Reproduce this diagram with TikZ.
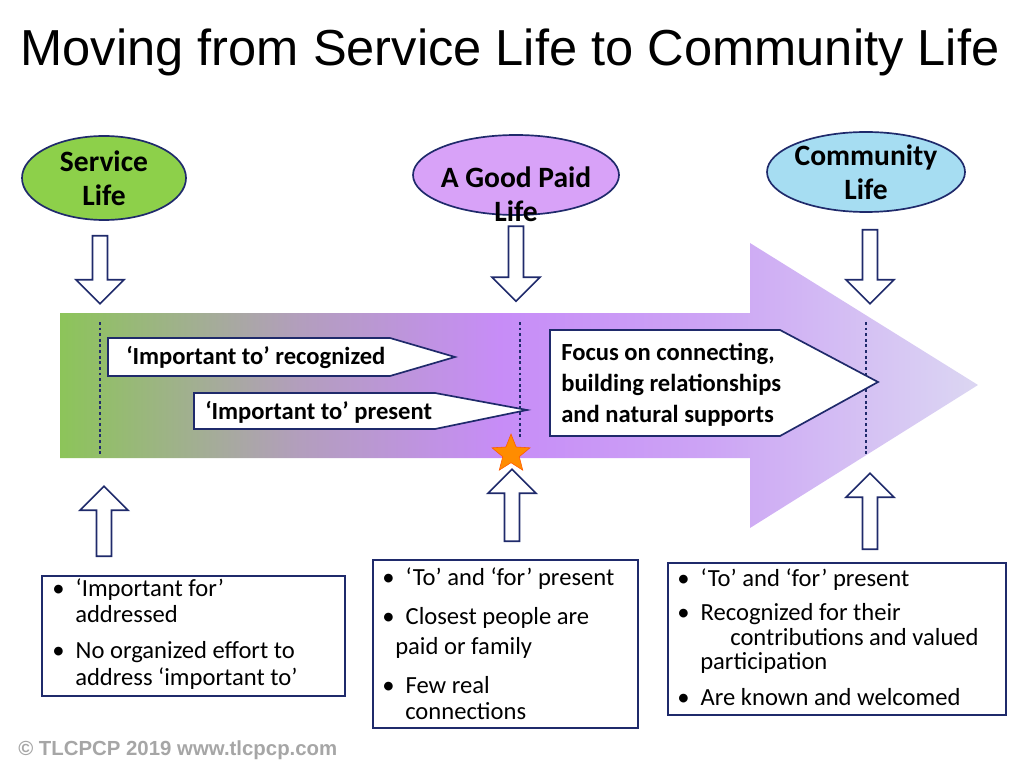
\documentclass[tikz,border=0pt]{standalone}
\usepackage{fontspec}
\setmainfont{Carlito}
\newfontfamily\arialf{Liberation Sans}
\usetikzlibrary{shapes.geometric,shapes.arrows,positioning}
\definecolor{navy}{HTML}{1F2A6B}
\definecolor{lgreen}{HTML}{8DD04A}
\definecolor{lpurple}{HTML}{D8A2F8}
\definecolor{lblue}{HTML}{A6DDF2}
\pgfdeclarehorizontalshading{bandshade}{100bp}{
  rgb(0bp)=(0.55,0.77,0.35); rgb(25bp)=(0.55,0.77,0.35); rgb(38bp)=(0.70,0.62,0.74);
  rgb(49bp)=(0.78,0.55,0.97); rgb(60bp)=(0.80,0.64,0.96); rgb(75bp)=(0.86,0.84,0.95);
  rgb(100bp)=(0.86,0.84,0.95)}
\tikzset{
  bubble/.style={ellipse,draw=navy,line width=1.2pt,inner sep=0pt,font=\bfseries\fontsize{21}{24}\selectfont,align=center},
  hollow/.style={single arrow,draw=navy,fill=white,line width=1.2pt,minimum width=48\pxu,single arrow head extend=13\pxu,inner sep=5\pxu},
  tag/.style={draw=navy,fill=white,line width=1.2pt},
  note/.style={draw=navy,fill=white,line width=1.2pt},
  txt/.style={font=\fontsize{17.5}{20}\selectfont,anchor=west,inner sep=0pt},
  btxt/.style={font=\bfseries\fontsize{17.5}{20}\selectfont,anchor=west,inner sep=0pt,align=left},
  sep/.style={navy,line width=2pt,dotted}
}
\newlength{\pxu}\setlength{\pxu}{0.25mm}
\begin{document}
\begin{tikzpicture}[x=0.25mm,y=-0.25mm]
\useasboundingbox (0,0) rectangle (1024,765);
% title
\node[font=\arialf\fontsize{36}{40}\selectfont] (title) at (510,52) {Moving from Service Life to Community Life};
% big arrow
\shade[shading=bandshade]
  (60,313) -- (750,313) -- (750,243) -- (978,385) -- (750,528) -- (750,458) -- (60,458) -- cycle;
% dotted lines
\coordinate (d1t) at (100,322); \coordinate (d1b) at (100,455);
\coordinate (d2t) at (520,322); \coordinate (d2b) at (520,440);
\coordinate (d3t) at (866,322); \coordinate (d3b) at (866,455);
\draw[sep] (d1t) -- (d1b);
\draw[sep] (d2t) -- (d2b);
\draw[sep] (d3t) -- (d3b);
% bubbles
\node[bubble,fill=lgreen,minimum width=164\pxu,minimum height=84\pxu] (svc) at (104,178) {Service\\Life};
\node[bubble,fill=lpurple,minimum width=206\pxu,minimum height=80\pxu] (paid) at (516,175) {};
\node[font=\bfseries\fontsize{21}{24}\selectfont,align=center] (paidt) at (516,194) {A Good Paid\\Life};
\node[ellipse,draw=navy,line width=1.2pt,fill=lblue,minimum width=198\pxu,minimum height=80\pxu] (comm) at (866,172) {};
\node[font=\bfseries\fontsize{21}{24}\selectfont,align=center] (commt) at (866,172) {Community\\Life};
% down arrows
\node[hollow,rotate=-90,minimum height=68\pxu] (dn1) at (100,266) {};
\node[hollow,rotate=-90,minimum height=75\pxu] (dn2) at (516,260) {};
\node[hollow,rotate=-90,minimum height=74\pxu] (dn3) at (870,263) {};
% up arrows
\node[hollow,rotate=90,minimum height=70\pxu] (up1) at (104,525) {};
\node[hollow,rotate=90,minimum height=72\pxu] (up2) at (512,509) {};
\node[hollow,rotate=90,minimum height=76\pxu] (up3) at (870,515) {};
% tags
\draw[tag] (108,338) -- (390,338) -- (455,357) -- (390,376) -- (108,376) -- cycle;
\node[btxt] (t1) at (126,358) {‘Important to’ recognized};
\draw[tag] (194,393) -- (435,393) -- (527,410) -- (435,429) -- (194,429) -- cycle;
\node[btxt] (t2) at (205,412) {‘Important to’ present};
\draw[tag] (550,330) -- (780,330) -- (878,382) -- (780,436) -- (550,436) -- cycle;
\node[btxt,font=\bfseries\fontsize{17.5}{22}\selectfont] (t3) at (561,385) {Focus on connecting,\\building relationships\\and natural supports};
% star
\node[star,star points=5,star point ratio=2.3,fill=orange!90!yellow,draw=orange!70!red,minimum size=40\pxu,inner sep=0pt] (st) at (511,454) {};
% notes
\draw[note] (42,576) rectangle (345,696);
\node[txt] at (52,590) {•\ \ ‘Important for’};
\node[txt] at (75,614) {addressed};
\node[txt] at (52,652) {•\ \ No organized effort to};
\node[txt] at (75,679) {address ‘important to’};
\draw[note] (373,560) rectangle (638,728);
\node[txt] at (382,579) {•\ \ ‘To’ and ‘for’ present};
\node[txt] at (382,618) {•\ \ Closest people are};
\node[txt] at (395,648) {paid or family};
\node[txt] at (382,685) {•\ \ Few real};
\node[txt] at (405,711) {connections};
\draw[note] (668,563) rectangle (1006,715);
\node[txt] at (677,580) {•\ \ ‘To’ and ‘for’ present};
\node[txt] at (677,614) {•\ \ Recognized for their};
\node[txt] at (730,637) {contributions and valued};
\node[txt] at (700,663) {participation};
\node[txt] at (677,697) {•\ \ Are known and welcomed};
% footer
\node[anchor=west,inner sep=0pt,text=gray!70,font=\arialf\bfseries\fontsize{14.5}{16}\selectfont] (foot) at (18,750) {© TLCPCP 2019 www.tlcpcp.com};
\end{tikzpicture}
\end{document}
